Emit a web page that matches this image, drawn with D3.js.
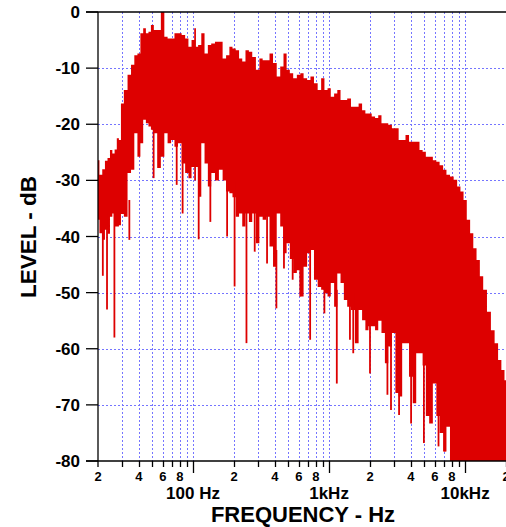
<!DOCTYPE html>
<html lang="en">
<head>
<meta charset="UTF-8">
<title>Spectrum</title>
<script src="https://d3js.org/d3.v7.min.js"></script>
<style>
    body { margin: 0; background: #fff; }
    svg { display: block; font-family: Arial, "Liberation Sans", sans-serif; font-weight: bold; }
</style>
</head>
<body>
<svg width="506" height="527"></svg>
<script>
// spectrum: frequency (Hz), top of the red mass and its solid floor (dB)
var freqHz = [20,21,22,23,24,25,26,27,28,29,30,32,34,36,38,40,42,44,46,48,50,53,56,60,63,67,71,75,80,85,90,95,
    100,104,106,112,118,125,132,140,150,160,170,180,190,200,212,224,236,250,265,280,300,315,335,355,375,400,425,450,475,500,530,560,600,630,670,710,750,800,850,900,950,
    1000,1060,1120,1180,1250,1320,1400,1500,1600,1700,1800,1900,2000,2120,2240,2360,2500,2650,2800,3000,3150,3350,3550,3750,4000,4250,4500,4750,5000,5300,5600,6000,6300,6700,7100,7500,8000,8500,9000,9500,
    10000,10600,11200,11800,12500,13200,14000,15000,16000,17000,18000,19000,20000];
var peakDb = [-26.4,-29,-28,-26.5,-26,-24.6,-25.2,-24.5,-22.5,-22.8,-16.3,-13.9,-11.2,-9.4,-7.7,-7.4,-3.8,-2.9,-3.8,-3.5,-2.3,-3.2,-3.2,0,-4.4,-4.7,-4.7,-3.8,-3.8,-4.1,-4.7,-6.2,
    -5,-2.9,-6.2,-5.9,-3.8,-7.4,-5.9,-5.6,-5.3,-5.3,-8.3,-7.7,-6.2,-6.5,-6.8,-8.3,-8.8,-6.8,-7.1,-8,-10.3,-8.3,-8.6,-8.6,-7.4,-9.1,-11.5,-9.7,-7.4,-10.3,-10.9,-11.8,-11.2,-10.9,-11.8,-12.1,-11.5,-12.7,-13.9,-11.8,-13.9,
    -13.6,-15.1,-14.5,-13.9,-15.7,-15.7,-15.4,-16.9,-16.9,-16.3,-17.5,-18.1,-18.1,-18.6,-18.9,-18.4,-19.8,-19.8,-20.1,-20.7,-20.7,-22.8,-22.8,-21.9,-23.1,-23.1,-23.1,-24.6,-24.9,-25.8,-25.8,-26.4,-26.7,-27.3,-28.1,-29,-29.3,-29.9,-31.1,-32,
    -33.5,-37,-39.4,-42.1,-44.2,-47.1,-49.5,-53.4,-56.7,-59,-62,-63.8,-65.6];
var floorDb = [-37,-39.4,-40.6,-38.8,-39.5,-36.5,-35.9,-38.2,-38.2,-38,-36,-36.5,-28.7,-28.1,-21.6,-25.8,-23.4,-19.2,-19.8,-20.4,-21,-21.6,-27.8,-25.8,-21.6,-23.4,-22.8,-24,-23.4,-27,-28.7,-29.6,
    -27.6,-30,-27.6,-32.9,-23.4,-27,-31.1,-28.7,-30,-28.1,-30,-32,-32.3,-33,-36.5,-35.9,-38.2,-35.9,-37.4,-35.9,-41.2,-36.5,-37,-36.5,-41.8,-45.4,-35.9,-38.2,-43,-41.2,-44,-46.5,-46,-50.7,-45.4,-43,-42.4,-47.7,-49,-49.5,-50.1,
    -50.7,-48.3,-52.5,-46.6,-48.3,-51.3,-52.5,-53.1,-59,-53.1,-54.9,-56.7,-56,-56,-56.7,-55,-57.2,-62.6,-59.6,-57.2,-67.9,-68.5,-59,-59,-65,-69.7,-60.8,-60.8,-63,-72,-73.3,-66.2,-72,-75,-78.3,-73.9,-80,-80,-80,-80,
    -80,-80,-80,-80,-80,-80,-80,-80,-80,-80,-80,-80,-80];

// narrow downward needles below the floor
var dipHz = [21.7,23.3,26.4,34,51.3,75.8,83.8,110,134,178,202,247,284,350,410,466,540,614,726,924,1140,1424,1506,2000,2686,2854,3272,4010,4980,6380,7080];
var dipDb = [-47,-53,-58,-40.6,-29.6,-30.8,-35.9,-40.5,-37.4,-40,-48.9,-59,-42.7,-44.8,-52.8,-45.7,-47.7,-50.7,-58.4,-53.7,-66.2,-58.4,-60.8,-64.4,-68.2,-70.9,-71.8,-73.3,-76.8,-77.4,-78.3];

var levelTicks = [0,-10,-20,-30,-40,-50,-60,-70,-80];
var decades = [10,100,1000,10000];
var decadeLabels = [{ f: 100, text: "100 Hz" }, { f: 1000, text: "1kHz" }, { f: 10000, text: "10kHz" }];

var svg = d3.select("svg");
var pl = 98, pr = 506, pt = 12, pb = 461;

var x = d3.scaleLog().domain([20, 20000]).range([pl, pr]);
var y = d3.scaleLinear().domain([-80, 0]).range([pb, pt]);

// every 1-9 multiple in the range
var gridF = [];
decades.forEach(function(d) {
    for (var m = 1; m <= 9; m++) {
        var f = d * m;
        if (f > 20 && f <= 20000) gridF.push(f);
    }
});

svg.append("clipPath").attr("id", "plot")
    .append("rect").attr("x", pl).attr("y", pt).attr("width", pr - pl).attr("height", pb - pt);

// grid
var grid = svg.append("g").attr("stroke", "#7575ff").attr("stroke-dasharray", "2,2").attr("stroke-width", 1);
grid.selectAll(".vg").data(gridF).enter().append("line")
    .attr("x1", function(d) { return Math.round(x(d)) + 0.5; })
    .attr("x2", function(d) { return Math.round(x(d)) + 0.5; })
    .attr("y1", pt).attr("y2", pb);
grid.selectAll(".hg").data(levelTicks.slice(1, -1)).enter().append("line")
    .attr("x1", pl).attr("x2", pr)
    .attr("y1", function(d) { return Math.round(y(d)) + 0.5; })
    .attr("y2", function(d) { return Math.round(y(d)) + 0.5; });

// spectrum
var spectrum = freqHz.map(function(f, i) { return { f: f, hi: peakDb[i], lo: floorDb[i] }; });
var plot = svg.append("g").attr("clip-path", "url(#plot)");

var area = d3.area()
    .x(function(d) { return x(d.f); })
    .y0(function(d) { return y(d.lo); })
    .y1(function(d) { return y(d.hi); })
    .curve(d3.curveStep);

plot.append("path").datum(spectrum)
    .attr("d", area)
    .attr("fill", "#dd0000");

var bis = d3.bisector(function(d) { return d.f; }).left;
plot.selectAll(".dip").data(dipHz).enter().append("line")
    .attr("x1", function(d) { return x(d); })
    .attr("x2", function(d) { return x(d); })
    .attr("y1", function(d) { return y(spectrum[Math.max(0, bis(spectrum, d) - 1)].lo + 3); })
    .attr("y2", function(d, i) { return y(dipDb[i]); })
    .attr("stroke", "#dd0000")
    .attr("stroke-width", 1.8);

// axes
var axes = svg.append("g").attr("stroke", "#000").attr("stroke-width", 1.3);
axes.append("line").attr("x1", 86).attr("x2", pr).attr("y1", pt).attr("y2", pt);
axes.append("line").attr("x1", 86).attr("x2", pr).attr("y1", pb).attr("y2", pb);
axes.append("line").attr("x1", pl).attr("x2", pl).attr("y1", pt).attr("y2", 467);
axes.selectAll(".yt").data(levelTicks).enter().append("line")
    .attr("x1", 86).attr("x2", pl)
    .attr("y1", function(d) { return y(d); })
    .attr("y2", function(d) { return y(d); });
axes.selectAll(".xt").data(gridF).enter().append("line")
    .attr("x1", function(d) { return Math.round(x(d)) + 0.5; })
    .attr("x2", function(d) { return Math.round(x(d)) + 0.5; })
    .attr("y1", pb)
    .attr("y2", function(d) { return decades.indexOf(d) >= 0 ? 473 : 467; });

svg.selectAll(".yl").data(levelTicks).enter().append("text")
    .attr("x", 80)
    .attr("y", function(d) { return y(d); })
    .attr("dy", "0.36em")
    .attr("text-anchor", "end")
    .attr("font-size", 17)
    .text(function(d) { return d; });

var minorLabels = [];
decades.forEach(function(d) {
    [2, 4, 6, 8].forEach(function(m) {
        if (d * m >= 20 && d * m <= 20000) minorLabels.push({ f: d * m, text: String(m) });
    });
});
svg.selectAll(".xl").data(minorLabels).enter().append("text")
    .attr("x", function(d) { return x(d.f); })
    .attr("y", 480.5)
    .attr("text-anchor", "middle")
    .attr("font-size", 13)
    .text(function(d) { return d.text; });

svg.selectAll(".dl").data(decadeLabels).enter().append("text")
    .attr("x", function(d) { return x(d.f); })
    .attr("y", 498.5)
    .attr("text-anchor", "middle")
    .attr("font-size", 17)
    .text(function(d) { return d.text; });

svg.append("text")
    .attr("x", 303).attr("y", 522)
    .attr("text-anchor", "middle")
    .attr("font-size", 22)
    .text("FREQUENCY - Hz");

svg.append("text")
    .attr("transform", "translate(36,237) rotate(-90)")
    .attr("text-anchor", "middle")
    .attr("font-size", 22.5)
    .text("LEVEL - dB");
</script>
</body>
</html>
